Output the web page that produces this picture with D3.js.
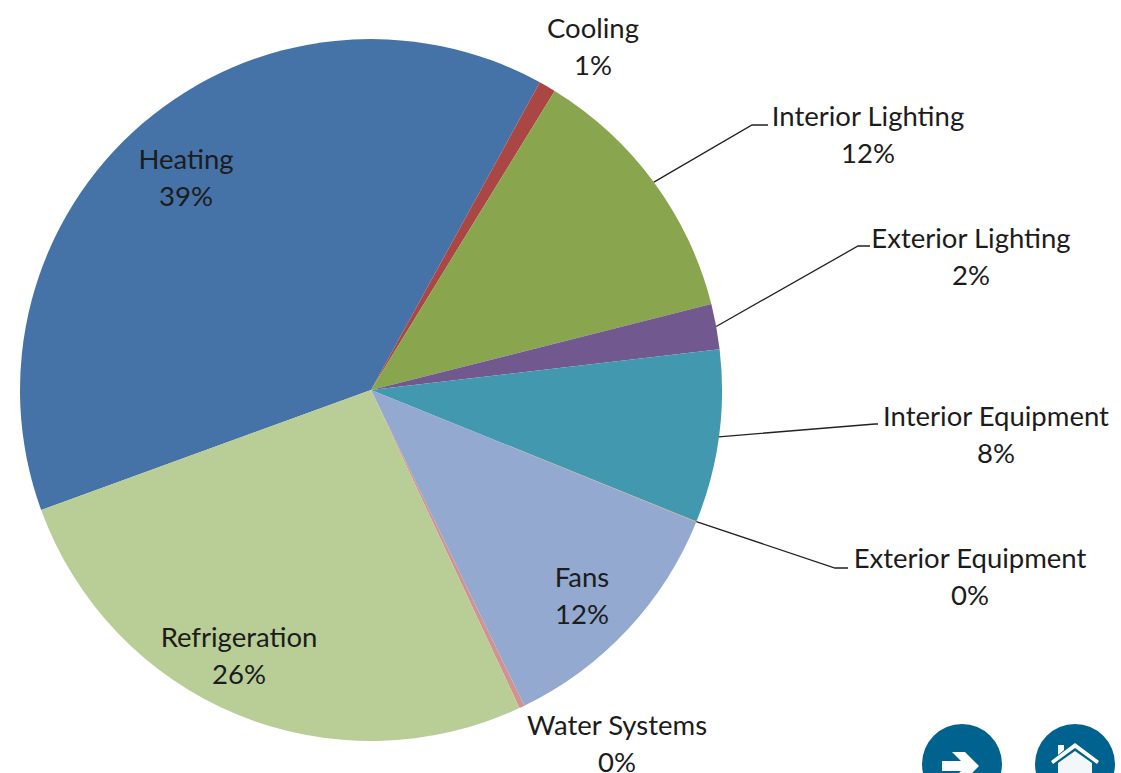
<!DOCTYPE html>
<html>
<head>
<meta charset="utf-8">
<script src="https://cdn.jsdelivr.net/npm/d3@7"></script>
<style>
  html, body { margin: 0; padding: 0; background: #fff; overflow: hidden; }
  text { font-family: Lato, "Open Sans", sans-serif; font-size: 27.5px; fill: #1c1c1c; }
</style>
</head>
<body>
<svg id="chart" width="1121" height="773"></svg>
<script>
const categories = ['Heating', 'Cooling', 'Interior Lighting', 'Exterior Lighting', 'Interior Equipment', 'Exterior Equipment', 'Fans', 'Water Systems', 'Refrigeration'];
const shares = [38.55, 0.78, 12.3, 2.08, 7.97, 0.02, 11.67, 0.25, 26.4];
const colors = ['#4572a7', '#aa4643', '#89a54e', '#71588f', '#4198af', '#db843d', '#93a9cf', '#d19392', '#b9cd96'];

const center = [371, 390];
const radius = 351;

// label anchor points (middle of the two text lines)
const labelAt = {
  'Heating': [186, 178],
  'Cooling': [593, 47],
  'Interior Lighting': [868, 135],
  'Exterior Lighting': [971, 257],
  'Interior Equipment': [996, 435],
  'Exterior Equipment': [970, 577],
  'Fans': [582, 596],
  'Water Systems': [617, 744],
  'Refrigeration': [239, 656]
};

// leader line: elbow and end, the start comes from the slice
const leaders = {
  'Interior Lighting': [[752, 125], [768, 125]],
  'Exterior Lighting': [[858, 246], [870, 246]],
  'Interior Equipment': [[875, 424], [878, 424]],
  'Exterior Equipment': [[835, 568], [848, 568]]
};

const svg = d3.select('#chart');
const pieG = svg.append('g').attr('transform', `translate(${center[0]}, ${center[1]})`);

const total = d3.sum(shares);
const data = categories.map((c, i) => ({ name: c, share: shares[i], color: colors[i] }));

const pie = d3.pie()
  .value(d => d.share)
  .sort(null)
  .startAngle(250 * Math.PI / 180)
  .endAngle((250 + 360) * Math.PI / 180);

const arc = d3.arc().innerRadius(0).outerRadius(radius);

const slices = pie(data);

pieG.selectAll('path')
  .data(slices)
  .join('path')
  .attr('d', arc)
  .attr('fill', d => d.data.color);

// leader lines
const line = d3.line();
svg.append('g').selectAll('path')
  .data(slices.filter(d => leaders[d.data.name]))
  .join('path')
  .attr('d', d => {
    const mid = (d.startAngle + d.endAngle) / 2;
    const start = [center[0] + radius * Math.sin(mid), center[1] - radius * Math.cos(mid)];
    return line([start, ...leaders[d.data.name]]);
  })
  .attr('fill', 'none')
  .attr('stroke', '#222')
  .attr('stroke-width', 1.3);

// labels
const fmt = d3.format('.0f');
const labels = svg.append('g').selectAll('text')
  .data(data)
  .join('text')
  .attr('text-anchor', 'middle')
  .attr('transform', d => `translate(${labelAt[d.name][0]}, ${labelAt[d.name][1]})`);

labels.append('tspan').attr('x', 0).attr('y', -9).text(d => d.name);
labels.append('tspan').attr('x', 0).attr('y', 28).text(d => fmt(d.share / total * 100) + '%');

// nav buttons cut off by the bottom of the page
const btn = svg.append('g');
btn.selectAll('circle')
  .data([962, 1075])
  .join('circle')
  .attr('cx', d => d)
  .attr('cy', 764)
  .attr('r', 40)
  .attr('fill', '#00628f');

// arrow
btn.append('path')
  .attr('d', 'M952 752H965L979 766L965 780H952L961 771H942V761H961Z')
  .attr('fill', '#fff');

// house: roof, chimney, body
btn.append('path')
  .attr('d', 'M1075 743L1099 761L1097 764L1075 748L1053 764L1051 761Z')
  .attr('fill', '#fff');
btn.append('path')
  .attr('d', 'M1058 745H1064V750L1058 755Z')
  .attr('fill', '#fff');
btn.append('path')
  .attr('d', 'M1058 773V763L1075 751L1092 763V773Z')
  .attr('fill', '#f4f7f9');
</script>
</body>
</html>
